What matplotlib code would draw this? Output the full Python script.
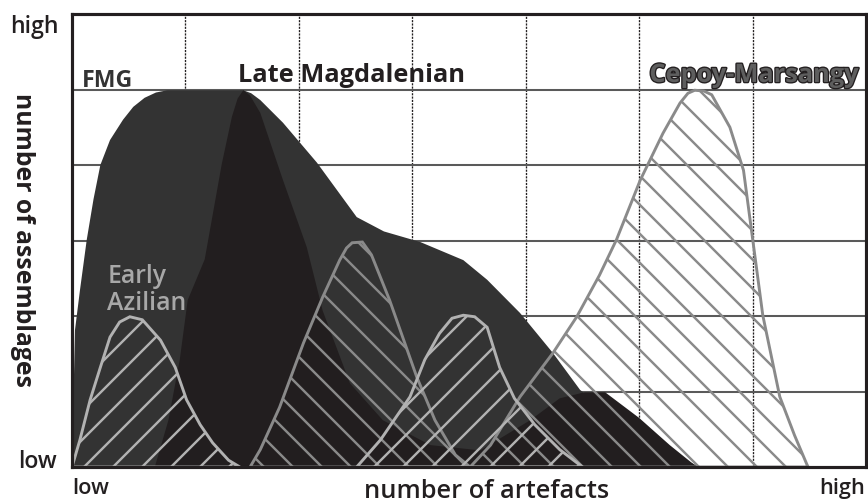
import numpy as np
import matplotlib
matplotlib.use('Agg')
import matplotlib.pyplot as plt
import matplotlib.patheffects as pe

DPI = 87
plt.rcParams['font.family'] = ['Open Sans', 'DejaVu Sans']
plt.rcParams['hatch.linewidth'] = 2.0

# grid: 7 columns (artefacts), 6 rows (assemblages), both low -> high
n_cols = 7
n_rows = 6

# outlines of the distributions (x: number of artefacts, y: number of assemblages)
fmg_x = [0, 0.026, 0.07, 0.13, 0.19, 0.25, 0.335, 0.45, 0.54, 0.64, 0.74, 0.84, 1.51,
         1.58, 1.66, 1.86, 2.16, 2.51, 2.75, 3.07, 3.45, 3.66, 3.95, 4.24, 4.48,
         4.83, 5.18, 5.53]
fmg_y = [0, 1.81, 2.34, 3.01, 3.55, 4.0, 4.33, 4.60, 4.77, 4.89, 4.96, 4.99, 4.99,
         4.95, 4.86, 4.56, 4.03, 3.31, 3.12, 2.98, 2.74, 2.48, 2.04, 1.51, 1.02,
         0.62, 0.28, 0]

late_mag_x = [0.73, 0.85, 0.95, 1.02, 1.17, 1.32, 1.41, 1.46, 1.51, 1.57, 1.66, 1.86,
              2.07, 2.21, 2.45, 2.74, 3.16, 3.60, 4.04, 4.30, 4.52, 4.70, 5.00,
              5.27, 5.51]
late_mag_y = [0, 0.62, 1.42, 2.21, 2.75, 4.01, 4.64, 4.88, 4.99, 4.92, 4.69, 3.80,
              2.91, 2.07, 1.11, 0.62, 0.29, 0.22, 0.62, 0.91, 0.99, 0.99, 0.65,
              0.29, 0]

azilian_x = [0, 0.07, 0.16, 0.25, 0.335, 0.42, 0.51, 0.62, 0.78, 0.91, 1.01, 1.13,
             1.24, 1.38, 1.48]
azilian_y = [0, 0.36, 0.89, 1.32, 1.72, 1.92, 1.99, 1.95, 1.68, 1.32, 0.89, 0.56,
             0.32, 0.09, 0]

hump2_x = [1.57, 1.66, 1.83, 2.04, 2.21, 2.36, 2.42, 2.47, 2.56, 2.64, 2.80, 3.04,
           3.20, 3.38, 3.51]
hump2_y = [0, 0.23, 0.79, 1.64, 2.25, 2.74, 2.90, 2.97, 2.98, 2.81, 2.21, 1.19,
           0.62, 0.16, 0]

hump3_x = [2.51, 2.72, 2.98, 3.11, 3.24, 3.35, 3.45, 3.55, 3.66, 3.77, 3.90, 4.08,
           4.30, 4.50]
hump3_y = [0, 0.36, 0.93, 1.42, 1.77, 1.97, 2.01, 1.99, 1.85, 1.32, 0.91, 0.56,
           0.23, 0]

cepoy_x = [3.51, 3.69, 3.95, 4.24, 4.45, 4.65, 4.80, 5.01, 5.21, 5.36, 5.43, 5.49,
           5.57, 5.64, 5.80, 5.92, 5.99, 6.09, 6.24, 6.37, 6.48, 6.49]
cepoy_y = [0, 0.29, 0.93, 1.51, 1.99, 2.54, 3.01, 3.80, 4.42, 4.82, 4.95, 4.99,
           4.98, 4.93, 4.50, 3.93, 3.14, 2.01, 0.93, 0.42, 0.03, 0]

dark = '#231f20'
fig = plt.figure(figsize=(868 / DPI, 503 / DPI), dpi=DPI)
ax = fig.add_axes([72 / 868, 36 / 503, 794 / 868, 453 / 503])
ax.set_xlim(0, n_cols)
ax.set_ylim(0, n_rows)
ax.set_xticks([])
ax.set_yticks([])
for s in ax.spines.values():
    s.set_linewidth(2.6)
    s.set_color(dark)
    s.set_zorder(10)

for i in range(1, n_cols):
    ax.axvline(i, color=dark, lw=1.1, ls=(0, (1.6, 0.9)), zorder=0)
for j in range(1, n_rows):
    ax.axhline(j, color='#5a5a5a', lw=1.7, zorder=0)

ax.fill(fmg_x, fmg_y, color='#333333', lw=0, zorder=1)
ax.fill(late_mag_x, late_mag_y, color='#221e1f', lw=0, zorder=2)

light = '#b2b2b2'
mid = '#8a8a8a'
ax.fill(cepoy_x, cepoy_y, facecolor='none', edgecolor=mid, hatch='\\', lw=2.4, zorder=3)
ax.fill(hump2_x, hump2_y, facecolor='none', edgecolor=mid, hatch='\\', lw=2.4, zorder=3)
ax.fill(azilian_x, azilian_y, facecolor='none', edgecolor=light, hatch='/', lw=2.4, zorder=4)
ax.fill(hump3_x, hump3_y, facecolor='none', edgecolor=light, hatch='/', lw=2.4, zorder=4)

# group labels
ax.text(0.09, 5.03, 'FMG', fontsize=19, fontweight='bold', color='#333333', zorder=5)
ax.text(1.46, 5.1, 'Late Magdalenian', fontsize=21, fontweight='bold', color=dark, zorder=5)
ax.text(5.09, 5.1, 'Cepoy-Marsangy', fontsize=21, fontweight='bold', color='#5e5e5e', zorder=5,
        path_effects=[pe.withStroke(linewidth=2.2, foreground=dark)])
ax.text(0.31, 2.08, 'Early\nAzilian', fontsize=20.5, fontweight='semibold', color='#a8a8a8',
        zorder=5, linespacing=1.1)

# axis texts
fig.text(10 / 868, 1 - 33 / 503, 'high', fontsize=19, fontweight='semibold', color=dark)
fig.text(18 / 868, 1 - 468 / 503, 'low', fontsize=19, fontweight='semibold', color=dark)
fig.text(72 / 868, 1 - 494 / 503, 'low', fontsize=18, fontweight='semibold', color=dark,
         va='baseline')
fig.text(865 / 868, 1 - 494 / 503, 'high', fontsize=18, fontweight='semibold', color=dark,
         ha='right', va='baseline')
fig.text(487 / 868, 1 - 491 / 503, 'number of artefacts', fontsize=21, fontweight='semibold',
         color=dark, ha='center', va='center')
fig.text(22 / 868, 1 - 240 / 503, 'number of assemblages', fontsize=20.5, fontweight='bold',
         color=dark, ha='center', va='center', rotation=-90)

fig.savefig('out.png', dpi=DPI)
